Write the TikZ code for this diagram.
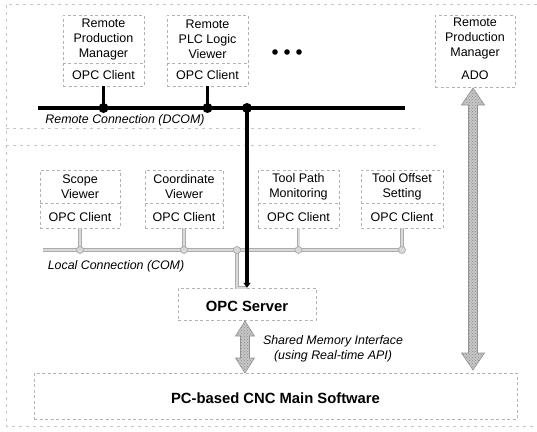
\documentclass[tikz,border=0pt]{standalone}
\usepackage{fontspec}
\setmainfont{Liberation Sans}
\usetikzlibrary{arrows.meta,patterns,calc}
\begin{document}
\begin{tikzpicture}[x=1pt,y=-1pt,
  frame/.style={draw=gray!45, line width=0.5pt, dash pattern=on 3pt off 4pt},
  box/.style={draw=gray!60, line width=0.5pt, dash pattern=on 3pt off 2.5pt, inner sep=0pt},
  txt/.style={font=\fontsize{12.5}{15}\selectfont, align=center, inner sep=0pt},
  btxt/.style={font=\fontsize{14.8}{17}\selectfont\bfseries, inner sep=0pt},
  lbl/.style={font=\fontsize{12.4}{15}\selectfont\itshape, align=center, inner sep=0pt},
  dbus/.style={line width=4.5pt, black},
  dlink/.style={line width=3.2pt, black},
  lbus/.style={draw=gray!65, line width=0.7pt, double=gray!30, double distance=2pt},
  jdot/.style={circle, fill=black, inner sep=0pt, minimum size=10pt},
  jring/.style={circle, draw=gray!65, line width=0.7pt, fill=gray!30, inner sep=0pt, minimum size=7pt},
  fatarrow/.style={draw=gray!85, line width=0.6pt, fill=gray!45, postaction={pattern=crosshatch dots, pattern color=gray!90}}
]
\useasboundingbox (0,0) rectangle (537,431);

% frames
\draw[frame] (537,4) -- (6,4) -- (6,426) -- (537,426);
\draw[frame] (6,128) -- (420,128);
\draw[frame] (6,145) -- (440,145);

% remote clients
\node[box, minimum width=81pt, minimum height=71pt] (rpm) at (103.5,50.5) {};
\node[txt] (rpmname) at (103.5,39) {Remote\\Production\\Manager};
\node[txt] (rpmopc) at (103.5,75) {OPC Client};
\draw[box] (rpm.west |- 0,63) -- (rpm.east |- 0,63);

\node[box, minimum width=81pt, minimum height=71pt] (plc) at (207.5,50.5) {};
\node[txt] (plcname) at (207.5,39) {Remote\\PLC Logic\\Viewer};
\node[txt] (plcopc) at (207.5,75) {OPC Client};
\draw[box] (plc.west |- 0,63) -- (plc.east |- 0,63);

\fill (275,52) circle (2.8) (287,52) circle (2.8) (299,52) circle (2.8);

\node[box, minimum width=80pt, minimum height=72pt] (ado) at (475,51) {};
\node[txt] (adoname) at (475,38) {Remote\\Production\\Manager};
\node[txt] (adoado) at (475,75) {ADO};

% local clients
\node[box, minimum width=80pt, minimum height=58pt] (scope) at (80,199) {};
\node[txt] (scopename) at (80,187) {Scope\\Viewer};
\node[txt] (scopeopc) at (80,217) {OPC Client};
\draw[box] (scope.west |- 0,203) -- (scope.east |- 0,203);

\node[box, minimum width=78pt, minimum height=58pt] (coord) at (184,199) {};
\node[txt] (coordname) at (184,187) {Coordinate\\Viewer};
\node[txt] (coordopc) at (184,217) {OPC Client};
\draw[box] (coord.west |- 0,203) -- (coord.east |- 0,203);

\node[box, minimum width=81pt, minimum height=58pt] (tpath) at (298.5,199) {};
\node[txt] (tpathname) at (298.5,187) {Tool Path\\Monitoring};
\node[txt] (tpathopc) at (298.5,217) {OPC Client};
\draw[box] (tpath.west |- 0,203) -- (tpath.east |- 0,203);

\node[box, minimum width=82pt, minimum height=58pt] (toff) at (402,199) {};
\node[txt] (toffname) at (402,187) {Tool Offset\\Setting};
\node[txt] (toffopc) at (402,217) {OPC Client};
\draw[box] (toff.west |- 0,203) -- (toff.east |- 0,203);

% server and main software
\node[box, minimum width=138pt, minimum height=32pt] (opc) at (247,304) {};
\node[btxt] (opctxt) at (247,306) {OPC Server};
\node[box, minimum width=483pt, minimum height=46pt] (cnc) at (275.5,396) {};
\node[btxt] (cnctxt) at (275.5,398) {PC-based CNC Main Software};

% local connection (COM)
\coordinate (lbL) at (43,250);
\coordinate (lbR) at (403,250);
\coordinate (lj) at (237,250);
\draw[lbus] (scope.south) -- (scope.south |- lbL);
\draw[lbus] (coord.south) -- (coord.south |- lbL);
\draw[lbus] (tpath.south) -- (tpath.south |- lbL);
\draw[lbus] (toff.south) -- (toff.south |- lbL);
\draw[lbus] (lj) |- (opc.north);
\draw[lbus] (lbL) -- (lbR);
\node[jring] (r1) at (scope.south |- lbL) {};
\node[jring] (r2) at (coord.south |- lbL) {};
\node[jring] (r3) at (lj) {};
\node[jring] (r4) at (tpath.south |- lbL) {};
\node[jring] (r5) at (toff.south |- lbL) {};
\node[lbl] (lcl) at (116,266) {Local Connection (COM)};

% remote connection (DCOM)
\coordinate (rbL) at (38,108);
\coordinate (rbR) at (405,108);
\draw[dbus] (rbL) -- (rbR);
\draw[dlink] (rpm.south) -- (rpm.south |- rbL);
\draw[dlink] (plc.south) -- (plc.south |- rbL);
\node[jdot] (j1) at (rpm.south |- rbL) {};
\node[jdot] (j2) at (plc.south |- rbL) {};
\node[jdot] (j3) at (247,108) {};
\draw[dlink, -{Triangle[length=5pt,width=7pt]}] (j3.center) -- (opc.north);
\node[lbl] (rcl) at (125,120) {Remote Connection (DCOM)};

% fat double arrows
\draw[fatarrow] (473,88) -- (484.5,105) -- (477.5,105) -- (477.5,353) -- (484.5,353) -- (473,370)
  -- (461.5,353) -- (468.5,353) -- (468.5,105) -- (461.5,105) -- cycle;
\draw[fatarrow] (245,321) -- (254.5,336) -- (249.5,336) -- (249.5,358) -- (254.5,358) -- (245,373)
  -- (235.5,358) -- (240.5,358) -- (240.5,336) -- (235.5,336) -- cycle;
\node[lbl] (shm) at (333,348.5) {Shared Memory Interface\\(using Real-time API)};
\end{tikzpicture}
\end{document}
